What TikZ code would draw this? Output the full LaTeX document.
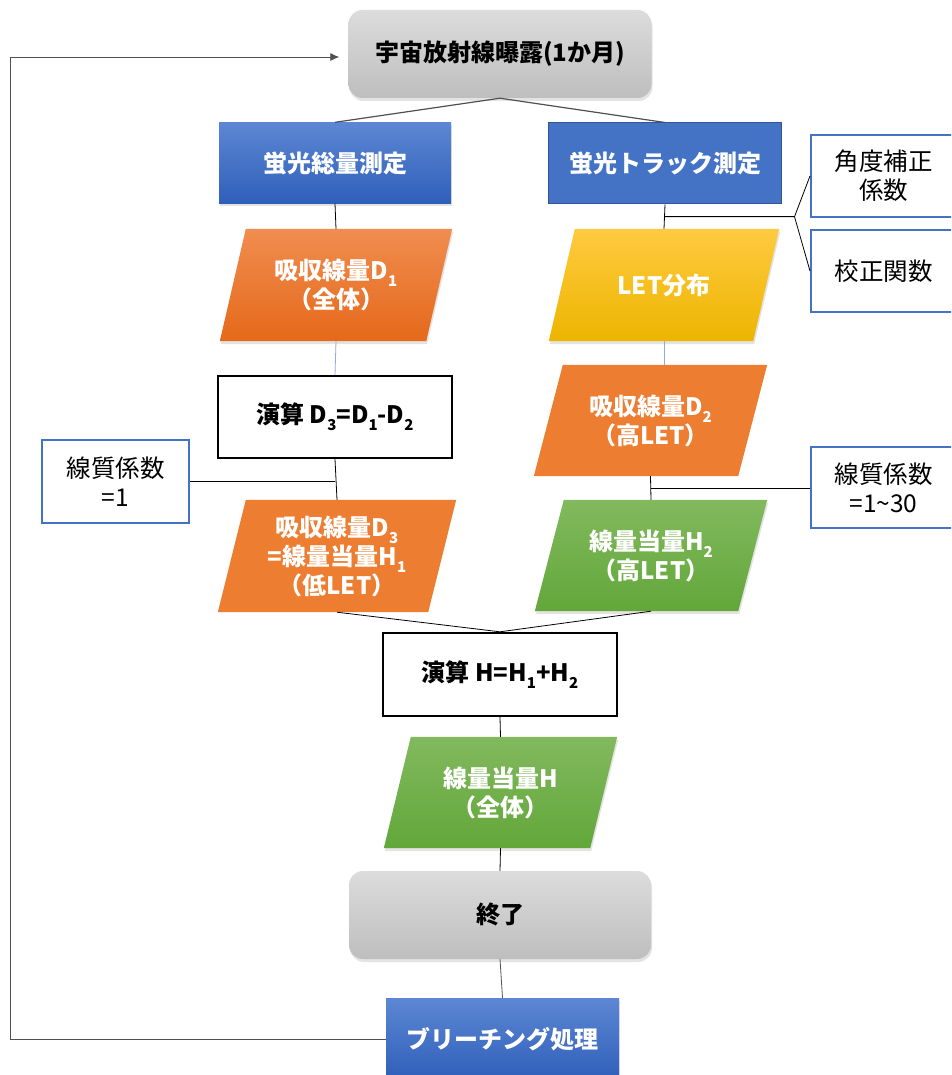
\documentclass[tikz,border=0pt]{standalone}
\usepackage{fontspec}
\setmainfont{Noto Sans CJK JP}
\usetikzlibrary{calc,arrows.meta,shadows}
\pgfdeclarelayer{background}
\pgfsetlayers{background,main}
\definecolor{grayA}{HTML}{DCDCDC}
\definecolor{grayB}{HTML}{BEBEBE}
\definecolor{blueA}{HTML}{5D87D4}
\definecolor{blueB}{HTML}{2F5FB9}
\definecolor{blueflat}{HTML}{4472C4}
\definecolor{blueedge}{HTML}{2F5597}
\definecolor{orA}{HTML}{F08D50}
\definecolor{orB}{HTML}{E5691A}
\definecolor{orflat}{HTML}{ED7D31}
\definecolor{yeA}{HTML}{FFCA40}
\definecolor{yeB}{HTML}{EDB500}
\definecolor{grA}{HTML}{82B95E}
\definecolor{grB}{HTML}{62A73A}
\definecolor{lineblue}{HTML}{8FAADC}
\definecolor{linegray}{HTML}{505050}
\newcommand\bt{\fontsize{24}{29}\selectfont\bfseries}
\newcommand\rt{\fontsize{24.5}{29}\selectfont}
\newcommand\lsub[1]{\raisebox{-0.55ex}{\fontsize{15}{15}\selectfont #1}}
\newcommand\paral[3]{%
  \begin{pgfonlayer}{background}
  \path[#3] ($(#1.north west)+(#2,0)$) -- (#1.north east) -- ($(#1.south east)-(#2,0)$) -- (#1.south west) -- cycle;
  \end{pgfonlayer}}
\tikzset{
  shd/.style={drop shadow={shadow xshift=1pt,shadow yshift=-3pt,opacity=0.22}},
  gbox/.style={rectangle, rounded corners=14pt, top color=grayA, bottom color=grayB, font=\bt, text=black, align=center, inner sep=0},
  bbox/.style={rectangle, top color=blueA, bottom color=blueB, font=\bt, text=white, align=center, inner sep=0, shd},
  bflat/.style={rectangle, fill=blueflat, draw=blueedge, line width=1pt, font=\bt, text=white, align=center, inner sep=0},
  wbox/.style={rectangle, draw=black, line width=2.4pt, fill=white, font=\bt, text=black, align=center, inner sep=0},
  kbox/.style={rectangle, draw=blueflat, line width=2pt, fill=white, font=\rt, text=black, align=center, inner sep=0},
  ptext/.style={rectangle, font=\bt, text=white, align=center, inner sep=0},
  conn/.style={line width=0.8pt, draw=black},
  connb/.style={line width=0.8pt, draw=lineblue},
  conng/.style={line width=0.8pt, draw=linegray},
}
\begin{document}
\begin{tikzpicture}[x=1pt,y=-1pt]
\clip (0,0) rectangle (951,1075);
\begin{pgfonlayer}{background}
\fill[white] (0,0) rectangle (951,1075);
\end{pgfonlayer}
% boxes
\node[gbox, shd, minimum width=303pt, minimum height=88pt] (top) at (500,54) {宇宙放射線曝露(1か月)};
\node[bbox, minimum width=232pt, minimum height=81pt] (b1) at (335,163) {蛍光総量測定};
\node[bflat, minimum width=233pt, minimum height=81pt] (b2) at (665,163.5) {蛍光トラック測定};
\node[kbox, minimum width=145pt, minimum height=82pt] (k1) at (883.5,176) {角度補正\\係数};
\node[kbox, minimum width=145pt, minimum height=82pt] (k2) at (883.5,271) {校正関数};
\node[ptext, minimum width=232pt, minimum height=112pt] (d1) at (336,285) {吸収線量D\lsub{1}\\（全体）};
\paral{d1}{26}{top color=orA, bottom color=orB, shd}
\node[ptext, minimum width=230pt, minimum height=112pt] (let) at (664,285) {LET分布};
\paral{let}{26}{top color=yeA, bottom color=yeB, shd}
\node[wbox, minimum width=234pt, minimum height=82pt] (c1) at (335,417) {演算 D\lsub{3}=D\lsub{1}-D\lsub{2}};
\node[kbox, minimum width=147pt, minimum height=83pt] (q1) at (115.5,481.5) {線質係数\\=1};
\node[ptext, minimum width=238pt, minimum height=112pt] (d3) at (337,556) {吸収線量D\lsub{3}\\=線量当量H\lsub{1}\\（低LET）};
\paral{d3}{28}{fill=orflat}
\node[ptext, minimum width=233pt, minimum height=111pt] (d2) at (650.5,420.5) {吸収線量D\lsub{2}\\（高LET）};
\paral{d2}{29}{fill=orflat}
\node[kbox, minimum width=145pt, minimum height=81pt] (q2) at (883.5,487.5) {線質係数\\=1\string~30};
\node[ptext, minimum width=232pt, minimum height=111pt] (h2) at (651,555.5) {線量当量H\lsub{2}\\（高LET）};
\paral{h2}{29}{top color=grA, bottom color=grB, shd}
\node[wbox, minimum width=234pt, minimum height=83pt] (c2) at (500,674.5) {演算 H=H\lsub{1}+H\lsub{2}};
\node[ptext, minimum width=233pt, minimum height=111pt] (h) at (500.5,792.5) {線量当量H\\（全体）};
\paral{h}{27}{top color=grA, bottom color=grB, shd}
\node[gbox, shd, minimum width=302pt, minimum height=88pt] (end) at (500,915) {終了};
\node[bbox, minimum width=233pt, minimum height=82pt] (bl) at (502.5,1039) {ブリーチング処理};
% connectors
\draw[conng, line width=1.2pt] (top.south) -- (b1.north);
\draw[conng, line width=1.2pt] (top.south) -- (b2.north);
\draw[conn] (b1.south) -- (d1.north);
\draw[conn] (b2.south) -- (let.north);
\coordinate (j1) at ($(b2.south)!0.5!(let.north)$);
\coordinate (j2) at ($(j1)+(130,0)$);
\draw[conn] (j1) -- (j2) -- (k1.west);
\draw[conn] (j2) -- (k2.west);
\draw[connb] (d1.south) -- (c1.north);
\draw[connb] (let.south) -- (let.south |- d2.north);
\draw[conn] (c1.south) -- (d3.north);
\draw[conn] (q1.east) -- (q1.east -| c1.south);
\draw[conn] (d2.south) -- (h2.north);
\coordinate (j3) at ($(d2.south)!0.5!(h2.north)$);
\draw[conn] (j3) -- (j3 -| q2.west);
\draw[conn] (d3.south) -- (c2.north);
\draw[conn] (h2.south) -- (c2.north);
\draw[conn] (c2.south) -- (h.north);
\draw[conn] (h.south) -- (end.north);
\draw[conng] (end.south) -- (bl.north);
\coordinate (fb) at (10,57);
\draw[conng, -{Latex[length=9pt,width=8pt]}, shorten >=9pt] (bl.west) -- (bl.west -| fb) -- (fb) -- (fb -| top.west);
\end{tikzpicture}
\end{document}
